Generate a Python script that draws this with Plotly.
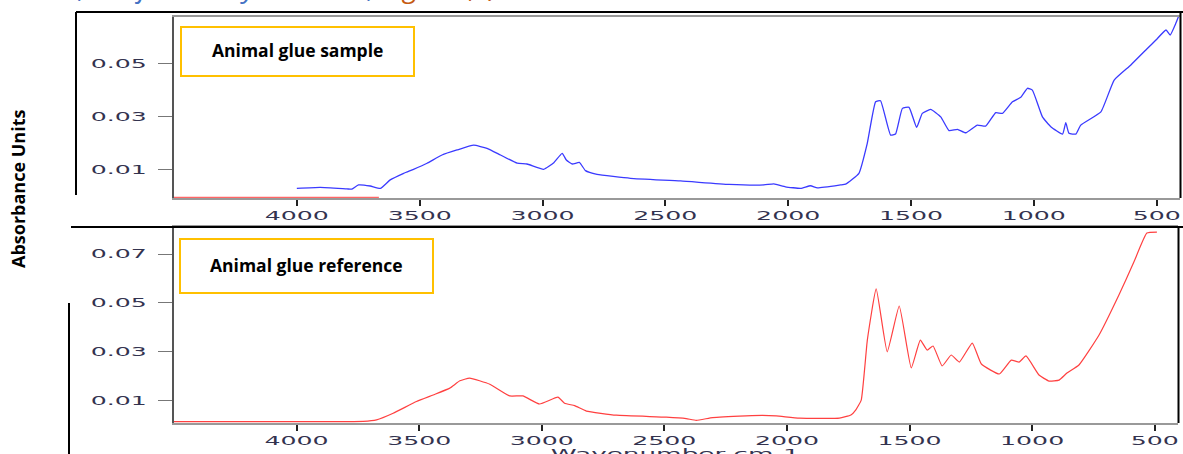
import plotly.graph_objects as go

W, H = 1183, 454

# ---------------- data ----------------
sample_wn = [4000, 3905, 3796, 3776, 3749, 3701, 3660, 3620, 3565, 3525, 3470, 3409, 3348, 3280,
             3226, 3171, 3103, 3063, 2995, 2954, 2920, 2903, 2879, 2850, 2825, 2778, 2642, 2438,
             2241, 2099, 2058, 2011, 1949, 1909, 1881, 1787, 1766, 1712, 1678, 1644, 1624, 1583,
             1563, 1535, 1508, 1477, 1454, 1420, 1379, 1345, 1311, 1277, 1230, 1196, 1155, 1128,
             1087, 1053, 1026, 1006, 965, 931, 883, 870, 857, 829, 809, 727, 673, 605, 537, 503,
             462, 445, 422, 409]
sample_abs = [0.0028, 0.0032, 0.0026, 0.0025, 0.0041, 0.0037, 0.0028, 0.0060, 0.0085, 0.0100,
              0.0123, 0.0154, 0.0173, 0.0191, 0.0179, 0.0154, 0.0123, 0.0120, 0.0100, 0.0125,
              0.0160, 0.0135, 0.0120, 0.0126, 0.0095, 0.0081, 0.0066, 0.0056, 0.0043, 0.0041,
              0.0045, 0.0034, 0.0028, 0.0038, 0.0030, 0.0041, 0.0044, 0.0085, 0.0198, 0.0355,
              0.0359, 0.0229, 0.0233, 0.0330, 0.0334, 0.0258, 0.0311, 0.0326, 0.0298, 0.0246,
              0.0251, 0.0238, 0.0267, 0.0263, 0.0314, 0.0311, 0.0355, 0.0372, 0.0406, 0.0399,
              0.0298, 0.0261, 0.0233, 0.0276, 0.0236, 0.0233, 0.0267, 0.0317, 0.0437, 0.0494,
              0.0557, 0.0588, 0.0626, 0.0607, 0.0651, 0.0682]

ref_wn = [4500, 3986, 3728, 3674, 3606, 3511, 3443, 3375, 3334, 3294, 3212, 3131, 3077, 3009,
          2934, 2907, 2866, 2818, 2696, 2492, 2411, 2370, 2303, 2167, 2100, 2044, 1949, 1786,
          1739, 1719, 1697, 1672, 1636, 1591, 1542, 1493, 1456, 1428, 1404, 1367, 1330, 1297,
          1244, 1207, 1134, 1085, 1053, 1025, 972, 931, 890, 858, 809, 727, 646, 585, 532, 491]
ref_abs = [0.0013, 0.0013, 0.0014, 0.0020, 0.0047, 0.0095, 0.0122, 0.0150, 0.0180, 0.0191,
           0.0166, 0.0118, 0.0118, 0.0085, 0.0113, 0.0088, 0.0078, 0.0056, 0.0039, 0.0031,
           0.0025, 0.0018, 0.0029, 0.0036, 0.0038, 0.0036, 0.0027, 0.0027, 0.0040, 0.0061,
           0.0101, 0.0348, 0.0557, 0.0299, 0.0487, 0.0233, 0.0347, 0.0306, 0.0323, 0.0241,
           0.0286, 0.0257, 0.0335, 0.0249, 0.0208, 0.0265, 0.0257, 0.0282, 0.0204, 0.0179,
           0.0183, 0.0212, 0.0245, 0.0368, 0.0532, 0.0667, 0.0786, 0.0790]

# reference baseline fragment visible at the foot of the upper panel
ref_stub_wn = [4500, 3666]
ref_stub_abs = [-0.0006, -0.0006]

x_ticks = [4000, 3500, 3000, 2500, 2000, 1500, 1000, 500]
top_y_ticks = [0.01, 0.03, 0.05]
bot_y_ticks = [0.01, 0.03, 0.05, 0.07]

# ---------------- helpers ----------------
def px(x):
    return x / W

def py(y):
    return 1 - y / H

tick_font = dict(family="DejaVu Sans", size=12, color="#33334f")

fig = go.Figure()
fig.add_trace(go.Scatter(x=sample_wn, y=sample_abs, mode="lines", xaxis="x", yaxis="y",
                         line=dict(color="#3a3aff", width=1.3, shape="spline", smoothing=0.4),
                         showlegend=False))
fig.add_trace(go.Scatter(x=ref_stub_wn, y=ref_stub_abs, mode="lines", xaxis="x", yaxis="y",
                         line=dict(color="#ff6666", width=1.5), showlegend=False, cliponaxis=False))
fig.add_trace(go.Scatter(x=ref_wn, y=ref_abs, mode="lines", xaxis="x2", yaxis="y2",
                         line=dict(color="#ff4040", width=1.2, shape="spline", smoothing=0.4),
                         showlegend=False))

xr = [4500, 405]
common_x = dict(range=xr, tickvals=x_ticks, ticktext=[str(v) for v in x_ticks],
                ticks="outside", ticklen=6, tickcolor="#222", tickwidth=1.5,
                showline=True, linecolor="#999", linewidth=1.5, mirror=True,
                showgrid=False, zeroline=False, tickfont=tick_font)
common_y = dict(ticks="outside", ticklen=14, tickcolor="#777", tickwidth=1,
                showline=True, linecolor="#555", linewidth=1.5,
                showgrid=False, zeroline=False, tickfont=tick_font, ticklabelstandoff=9)

fig.update_layout(
    width=W, height=H, margin=dict(l=0, r=0, t=0, b=0),
    paper_bgcolor="white", plot_bgcolor="white",
    xaxis=dict(domain=[px(174), px(1180)], anchor="y", **common_x),
    yaxis=dict(domain=[py(198), py(17)], anchor="x", range=[-0.00083, 0.0675],
               tickvals=top_y_ticks, ticktext=[f"{v:.2f}" for v in top_y_ticks], **common_y),
    xaxis2=dict(domain=[px(174), px(1178)], anchor="y2", **common_x),
    yaxis2=dict(domain=[py(423), py(227)], anchor="x2", range=[0.0007, 0.0811],
                tickvals=bot_y_ticks, ticktext=[f"{v:.2f}" for v in bot_y_ticks], **common_y),
)

shapes = []
black = dict(color="black", width=2)
# upper outer frame
shapes.append(dict(type="line", xref="paper", yref="paper", x0=px(76), x1=px(1183), y0=py(12), y1=py(12), line=black))
shapes.append(dict(type="line", xref="paper", yref="paper", x0=px(76), x1=px(76), y0=py(12), y1=py(195), line=black))
shapes.append(dict(type="line", xref="paper", yref="paper", x0=px(1180.5), x1=px(1180.5), y0=py(12), y1=py(198), line=black))
# lower panel frame pieces
shapes.append(dict(type="line", xref="paper", yref="paper", x0=px(71), x1=px(1183), y0=py(227), y1=py(227), line=black))
shapes.append(dict(type="line", xref="paper", yref="paper", x0=px(69), x1=px(69), y0=py(303), y1=py(454), line=black))
shapes.append(dict(type="line", xref="paper", yref="paper", x0=px(1178.5), x1=px(1178.5), y0=py(227), y1=py(423), line=black))
# legend boxes
box = dict(color="#FFC000", width=2)
shapes.append(dict(type="rect", xref="paper", yref="paper", x0=px(181), x1=px(414), y0=py(76), y1=py(27), line=box, fillcolor="rgba(0,0,0,0)"))
shapes.append(dict(type="rect", xref="paper", yref="paper", x0=px(180), x1=px(433), y0=py(293), y1=py(239), line=box, fillcolor="rgba(0,0,0,0)"))
fig.update_layout(shapes=shapes)

label_font = dict(family="Open Sans", size=17.5, color="black", weight="bold")
ann = [
    dict(text="Animal glue sample", x=px(297.5), y=py(50), xref="paper", yref="paper",
         showarrow=False, font=label_font, xanchor="center", yanchor="middle"),
    dict(text="Animal glue reference", x=px(306.5), y=py(265), xref="paper", yref="paper",
         showarrow=False, font=label_font, xanchor="center", yanchor="middle"),
    dict(text="Absorbance Units", x=px(18), y=py(189), xref="paper", yref="paper",
         showarrow=False, textangle=-90, font=dict(family="Open Sans", size=18, color="black", weight="bold"),
         xanchor="center", yanchor="middle"),
    dict(text="Wavenumber cm-1", x=px(675), y=py(444), xref="paper", yref="paper",
         showarrow=False, font=dict(family="DejaVu Sans", size=12.5, color="#33334f"),
         xanchor="center", yanchor="top"),
    dict(text="<i>…n, confirmed by ATR-FTIR, <span style='color:#C55A11'>Figure (b)</span></i>",
         x=px(40), y=py(7), xref="paper", yref="paper", showarrow=False,
         font=dict(family="Open Sans", size=28, color="#4472C4"), xanchor="left", yanchor="bottom"),
]
fig.update_layout(annotations=ann)

post = """
(function(){
  document.body.style.margin = '0';
  var gd = document.getElementById('{plot_id}');
  function fix(){
    var nodes = gd.querySelectorAll('.xtick text, .ytick text, .x2tick text, .y2tick text, text.annotation-text');
    nodes.forEach(function(t){
      var isTick = t.closest('.xtick') || t.closest('.ytick') || t.closest('.x2tick') || t.closest('.y2tick');
      var txt = t.textContent || '';
      if(!isTick && txt.indexOf('Wavenumber') !== 0) return;
      var cur = t.getAttribute('transform') || '';
      var base = t.getAttribute('data-base');
      if(base === null || cur.indexOf('scale(') === -1){ base = cur; t.setAttribute('data-base', base); }
      var ax = parseFloat(t.getAttribute('x')) || 0;
      t.setAttribute('transform', base + ' translate(' + ax + ',0) scale(2.1,1) translate(' + (-ax) + ',0)');
    });
  }
  fix();
  if (gd.on) gd.on('plotly_afterplot', fix);
  setTimeout(fix, 50);
  setTimeout(fix, 300);
})();
"""

fig.write_html("out.html", post_script=post, config={"displayModeBar": False})
